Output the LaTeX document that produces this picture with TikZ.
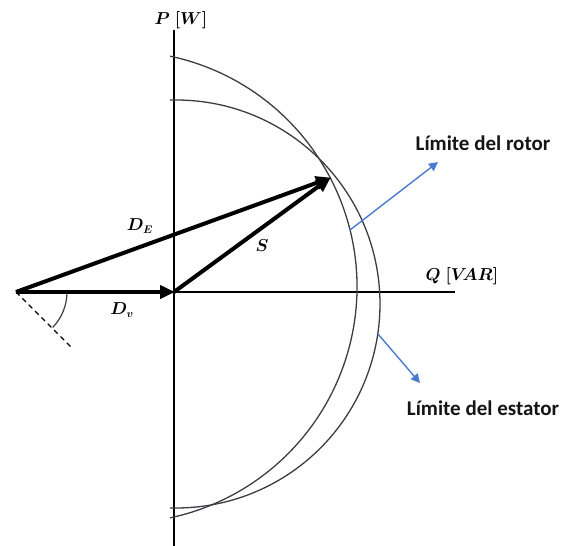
\documentclass[tikz,border=0pt]{standalone}
\usepackage{amsmath}
\usepackage{bm}
\usepackage{fontspec}
\newfontfamily\calib{Carlito}
\usetikzlibrary{arrows.meta}
\definecolor{arcgray}{HTML}{3C3C44}
\definecolor{arrowblue}{HTML}{4A7BD0}
\definecolor{txt}{HTML}{151515}
\tikzset{
  axisline/.style={line width=1.4pt, black},
  limitarc/.style={line width=1.3pt, arcgray},
  vec/.style={line width=4pt, black, -{Triangle[length=15pt,width=13pt]}, shorten >=-1pt},
  bluearrow/.style={line width=1.4pt, arrowblue, -{Triangle[length=9pt,width=9pt]}},
  limitlabel/.style={font=\calib\bfseries\fontsize{21}{24}\selectfont, text=txt, inner sep=0pt},
  mathlabel/.style={font=\fontsize{16}{18}\selectfont\boldmath, inner sep=0pt}
}
\begin{document}
\begin{tikzpicture}[x=1pt,y=-1pt]
\useasboundingbox (0,0) rectangle (565,546);
% coordinates
\coordinate (O) at (174,292);
\coordinate (A) at (16,292);
\coordinate (T) at (330,178);
\coordinate (Ptop) at (174,30);
\coordinate (Pbot) at (174,546);
\coordinate (Qend) at (455,292);
\coordinate (C1) at (121,287);
\coordinate (C2) at (176,304);
\coordinate (Dend) at (73,349);
\coordinate (r0) at (350,230);
\coordinate (r1) at (438,162);
\coordinate (s0) at (378,334);
\coordinate (s1) at (420,383);
% axes
\draw[axisline] (Ptop) -- (Pbot);
\draw[axisline] (O) -- (Qend);
% limit arcs
\draw[limitarc] (C1) ++(-78:236) arc[start angle=-78, end angle=78, radius=236];
\draw[limitarc] (C2) ++(-91.7:204) arc[start angle=-91.7, end angle=91.7, radius=204];
% dashed line and angle
\draw[line width=1.2pt, dash pattern=on 5pt off 4pt] (A) -- (Dend);
\draw[line width=1.2pt, arcgray] (A) ++(0:51) arc[start angle=0, end angle=44, radius=51];
% vectors
\draw[vec] (A) -- (T);
\draw[vec] (O) -- (T);
\draw[vec] (A) -- (O);
% blue arrows
\draw[bluearrow] (r0) -- (r1);
\draw[bluearrow] (s0) -- (s1);
% labels
\node[mathlabel] (plabel) at (181,20) {$P\ [W]$};
\node[mathlabel] (qlabel) at (462,276) {$Q\ [V\mkern-4mu AR]$};
\node[mathlabel] (delabel) at (140,226) {$D_E$};
\node[mathlabel] (dvlabel) at (122,310) {$D_v$};
\node[mathlabel] (slabel) at (262,246) {$S$};
\node[limitlabel] (rotor) at (483,143) {Límite del rotor};
\node[limitlabel] (estator) at (483,408) {Límite del estator};
\end{tikzpicture}
\end{document}
